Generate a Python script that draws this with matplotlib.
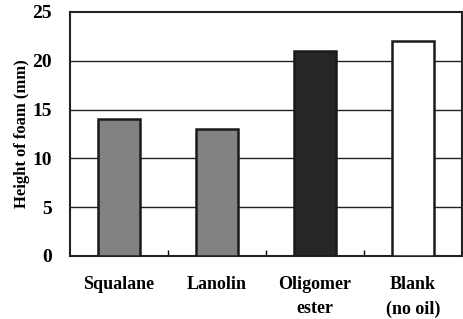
import matplotlib
matplotlib.use("Agg")
import matplotlib.pyplot as plt

categories = ["Squalane", "Lanolin", "Oligomer\nester", "Blank\n(no oil)"]
values = [14, 13, 21, 22]
colors = ["#828282", "#828282", "#262626", "#ffffff"]
yticks = [0, 5, 10, 15, 20, 25]

plt.rcParams['font.family'] = ['Liberation Serif', 'DejaVu Serif']
plt.rcParams['font.weight'] = 'bold'

fig = plt.figure(figsize=(4.64, 3.19), dpi=100)
ax = fig.add_axes([70/464, 1-256/319, 392/464, 244/319])
x = list(range(len(categories)))
ax.bar(x, values, width=0.42, color=colors, edgecolor="#1a1a1a", linewidth=1.8, zorder=3)
ax.set_xlim(-0.5, 3.5)
ax.set_ylim(0, 25)
ax.set_yticks(yticks)
ax.set_yticklabels([str(t) for t in yticks], fontsize=14, fontweight='bold')
for t in yticks[1:-1]:
    ax.axhline(t, color="#222222", linewidth=1.0, zorder=1)
ax.set_xticks([0.5, 1.5, 2.5], minor=False)
ax.set_xticklabels([])
ax.tick_params(axis='x', direction='in', length=4, width=1)
ax.tick_params(axis='y', length=0, pad=13)
for i, c in enumerate(categories):
    ax.text(i, -2.0, c, ha='center', va='top', fontsize=13, fontweight='bold', linespacing=1.6)
for s in ax.spines.values():
    s.set_linewidth(1.5)
    s.set_color("#222222")
ax.set_ylabel("Height of foam (mm)", fontsize=12, fontweight='bold', labelpad=2)
fig.savefig("out.png", dpi=100)
